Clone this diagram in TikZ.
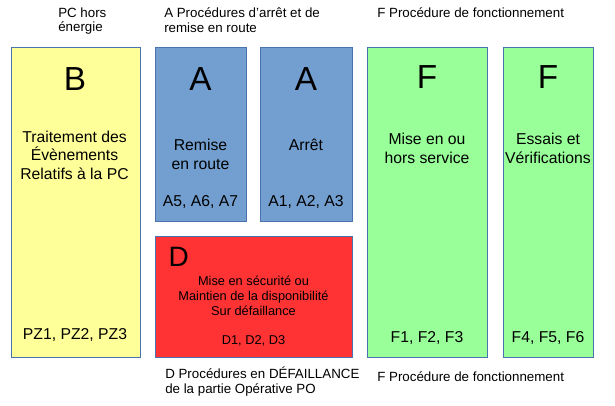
\documentclass[tikz,border=0pt]{standalone}
\usepackage{fontspec}
\setmainfont{Liberation Sans}
\usepackage{tikz}
\usetikzlibrary{positioning}
\definecolor{jaune}{HTML}{FFFF99}
\definecolor{bleu}{HTML}{729FCF}
\definecolor{rouge}{HTML}{FF3333}
\definecolor{vert}{HTML}{99FF99}
\definecolor{trait}{HTML}{4A72AD}
\newdimen\px \px=0.75pt

\begin{document}
\begin{tikzpicture}[x=0.75pt,y=-0.75pt,
  box/.style={draw=trait,line width=1\px,inner sep=0pt},
  big/.style={anchor=base,font=\fontsize{25}{30}\selectfont},
  txt/.style={anchor=base,align=center,inner sep=0pt,
    font=\fontsize{11.8}{13.75}\selectfont},
  petit/.style={anchor=base,align=center,inner sep=0pt,
    font=\fontsize{9.6}{10.9}\selectfont},
  lbl/.style={anchor=base west,align=left,inner sep=0pt,
    font=\fontsize{10}{10.8}\selectfont}]
  \useasboundingbox (0,0) rectangle (615,405);
  % boites
  \node[box,fill=jaune,minimum width=129\px,minimum height=310\px](B)at(75.5,202){};
  \node[box,fill=bleu,minimum width=91\px,minimum height=174\px](A1)at(200.5,134){};
  \node[box,fill=bleu,minimum width=92\px,minimum height=174\px](A2)at(306,134){};
  \node[box,fill=rouge,minimum width=197\px,minimum height=121\px](D)at(253.5,296.5){};
  \node[box,fill=vert,minimum width=120\px,minimum height=310\px](F1)at(427,202){};
  \node[box,fill=vert,minimum width=90\px,minimum height=310\px](F2)at(548,202){};
  % B (base = derniere ligne)
  \node[big](lB)at(75,90.5){B};
  \node[txt](tB)at(74.5,179){Traitement des\\Évènements\\Relatifs à la PC};
  \node[txt](nB)at(75,339.5){PZ1, PZ2, PZ3};
  % A
  \node[big](lA1)at(200.5,90){A};
  \node[txt](tA1)at(200.5,169){Remise\\en route};
  \node[txt](nA1)at(200.5,206){A5, A6, A7};
  \node[big](lA2)at(306,90){A};
  \node[txt](tA2)at(306,150.7){Arrêt};
  \node[txt](nA2)at(306,206){A1, A2, A3};
  % D
  \node[big,anchor=base west,font=\fontsize{21}{24}\selectfont](lD)at(164,266.5){D};
  \node[petit](tD)at(253.5,315){Mise en sécurité ou\\Maintien de la disponibilité\\Sur défaillance};
  \node[petit](nD)at(253.5,344.3){D1, D2, D3};
  % F
  \node[big](lF1)at(427,88.5){F};
  \node[txt](tF1)at(427,163.3){Mise en ou\\hors service};
  \node[txt](nF1)at(427,342.7){F1, F2, F3};
  \node[big](lF2)at(548,88.5){F};
  \node[txt](tF2)at(548,163.3){Essais et\\Vérifications};
  \node[txt](nF2)at(548,342.7){F4, F5, F6};
  % legendes
  \node[lbl](hB)at(58,31.7){PC hors\\énergie};
  \node[lbl](hA)at(164,32){A Procédures d'arrêt et de\\remise en route};
  \node[lbl](hF)at(377,17.7){F Procédure de fonctionnement};
  \node[lbl](bD)at(165,393){D Procédures en DÉFAILLANCE\\de la partie Opérative PO};
  \node[lbl](bF)at(377,381){F Procédure de fonctionnement};
\end{tikzpicture}
\end{document}
